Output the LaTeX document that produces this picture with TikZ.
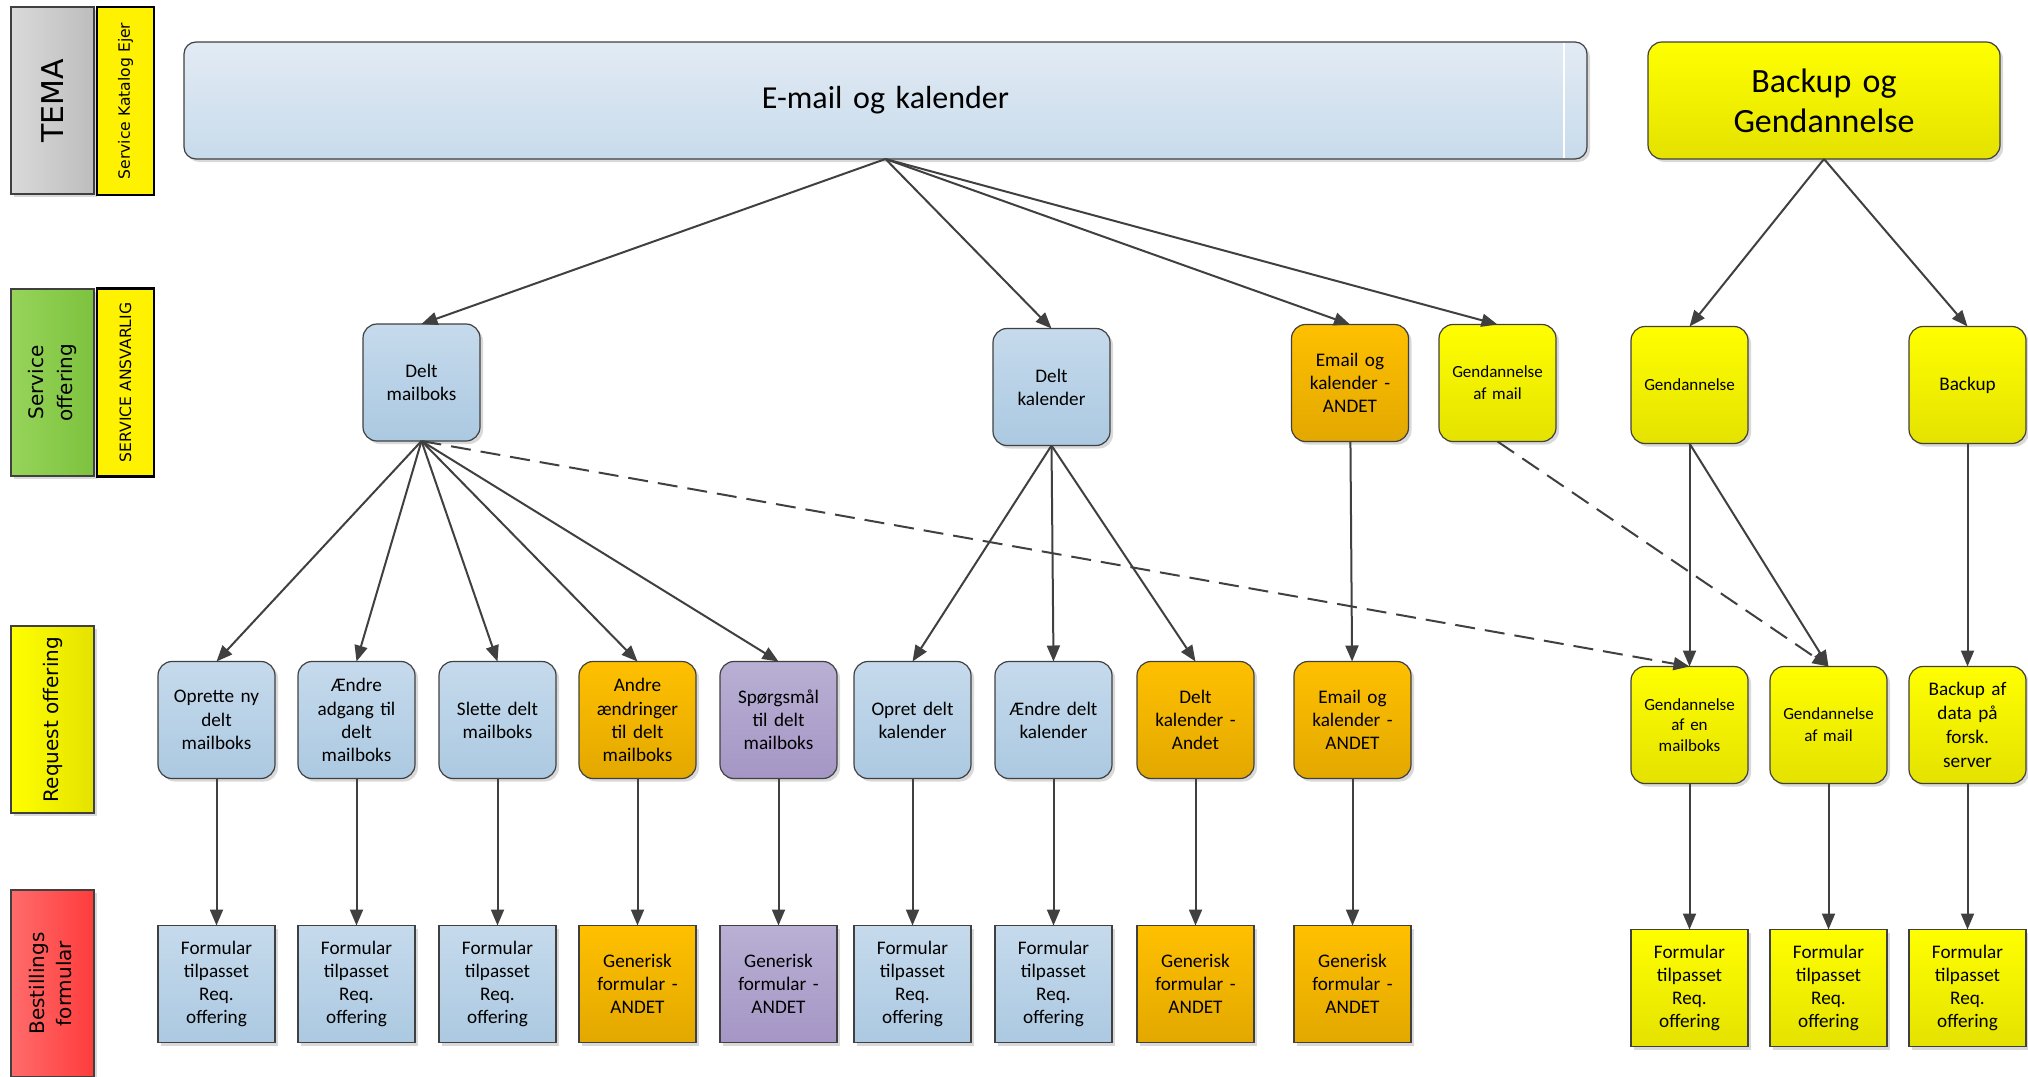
\documentclass[tikz,border=0pt]{standalone}
\usepackage{fontspec}
\setmainfont{Carlito}
\newfontfamily\lanefont{DejaVu Sans}
\usepackage{tikz}
\usetikzlibrary{arrows.meta}
\usetikzlibrary{positioning, shadows}

\definecolor{lineGrey}{HTML}{404040}
\definecolor{blueTop}{HTML}{C6DAEC}
\definecolor{blueBot}{HTML}{ABC9E1}
\definecolor{paleTop}{HTML}{E2EBF4}
\definecolor{paleBot}{HTML}{C8DBEB}
\definecolor{orangeTop}{HTML}{FFC000}
\definecolor{orangeBot}{HTML}{E3A800}
\definecolor{lilacTop}{HTML}{B9B0D4}
\definecolor{lilacBot}{HTML}{A596C5}
\definecolor{lemonTop}{HTML}{FFFF00}
\definecolor{lemonBot}{HTML}{E4E200}
\definecolor{greyL}{HTML}{DADADA}
\definecolor{greyR}{HTML}{BDBDBD}
\definecolor{greenL}{HTML}{96D45A}
\definecolor{greenR}{HTML}{7DC23E}
\definecolor{redL}{HTML}{FF6B6B}
\definecolor{redR}{HTML}{FF3C3C}

\tikzstyle{softshadow} = [drop shadow={shadow xshift=1.5pt, shadow yshift=-1.5pt, opacity=0.15, fill=black}]
\tikzstyle{lane} = [draw=lineGrey, line width=0.6pt,
	minimum width=41.5pt,
	minimum height=93.5pt, inner sep=0pt, font=\lanefont, softshadow]
\tikzstyle{owner} = [draw=black, line width=1.3pt, fill=yellow,
	minimum width=28.5pt,
	minimum height=94pt, inner sep=0pt, font=\lanefont\fontsize{7.8}{9}\selectfont]
\tikzstyle{box} = [draw=lineGrey, line width=0.6pt, rounded corners=7pt,
	minimum width=58.5pt,
	minimum height=58.5pt, text width=55pt, align=center, inner sep=0pt, outer sep=0pt,
	font=\fontsize{9.6}{11.6}\selectfont, softshadow]
\tikzstyle{form} = [box, sharp corners]
\tikzstyle{small} = [font=\fontsize{8.5}{11}\selectfont]
\tikzstyle{mblue} = [top color=blueTop, bottom color=blueBot]
\tikzstyle{mpale} = [top color=paleTop, bottom color=paleBot]
\tikzstyle{morange} = [top color=orangeTop, bottom color=orangeBot]
\tikzstyle{mlilac} = [top color=lilacTop, bottom color=lilacBot]
\tikzstyle{myellow} = [top color=lemonTop, bottom color=lemonBot]
\tikzstyle{arrow} = [-{Triangle[length=8pt, width=6.5pt]}, line width=1pt, draw=lineGrey]
\tikzstyle{link} = [arrow, dash pattern=on 10pt off 5pt]

\begin{document}
\begin{tikzpicture}[x=0.5pt, y=-0.5pt]
			\useasboundingbox (0,0) rectangle (2028,1076);
			% lanes on the left
			\node (tema) [lane, left color=greyL, right color=greyR] at (52.5,100.5) {\rotatebox{90}{\fontsize{15}{18}\selectfont TEMA}};
			\node (ejer) [owner] at (125.5,101) {\rotatebox{90}{Service Katalog Ejer}};
			\node (soff) [lane, left color=greenL, right color=greenR] at (52.5,382.5) {\rotatebox{90}{\fontsize{10}{14.5}\selectfont\begin{tabular}{@{}c@{}}Service\\offering\end{tabular}}};
			\node (ansv) [owner] at (125.5,382.5) {\rotatebox{90}{SERVICE ANSVARLIG}};
			\node (roff) [lane, left color=lemonTop, right color=lemonBot] at (52.5,719.5) {\rotatebox{90}{\fontsize{10}{12}\selectfont Request offering}};
			\node (best) [lane, left color=redL, right color=redR] at (52.5,983.5) {\rotatebox{90}{\fontsize{10}{13.5}\selectfont\begin{tabular}{@{}c@{}}Bestillings\\formular\end{tabular}}};
			
			% tema
			\node (email) [box, mpale, minimum width=701.5pt, text width=300pt, rounded corners=6pt, font=\fontsize{16}{19}\selectfont] at (885.5,100.5) {E-mail og kalender};
			\draw [white, line width=0.6pt] (1564,43) -- (1564,158);
			\node (backup) [box, myellow, minimum width=176pt, text width=150pt, font=\fontsize{17}{20}\selectfont] at (1824,100.5) {Backup og\\Gendannelse};
			
			% service offering
			\node (sMail) [box, mblue] at (421.5,382.5) {Delt\\mailboks};
			\node (sKal) [box, mblue] at (1051.5,387) {Delt\\kalender};
			\node (sAndet) [box, morange] at (1350,383) {Email og\\kalender -\\ANDET};
			\node (sGmail) [box, myellow, small, right=15.25pt] at (sAndet.east) {Gendannelse\\af mail};
			\node (sGend) [box, myellow, small] at (1689.5,385) {Gendannelse};
			\node (sBack) [box, myellow] at (1967.5,385) {Backup};
			\draw [arrow] (email.south) -- (sMail.north);
			\draw [arrow] (email.south) -- (sKal.north);
			\draw [arrow] (email.south) -- (sAndet.north);
			\draw [arrow] (email.south) -- (sGmail.north);
			\draw [arrow] (backup.south) -- (sGend.north);
			\draw [arrow] (backup.south) -- (sBack.north);
			
			% request offering
			\node (rNy) [box, mblue] at (216.5,720) {Oprette ny\\delt\\mailboks};
			\node (rAdg) [box, mblue, right=11.5pt] at (rNy.east) {Ændre\\adgang til\\delt\\mailboks};
			\node (rSlet) [box, mblue, right=12pt] at (rAdg.east) {Slette delt\\mailboks};
			\node (rAndre) [box, morange, right=11.5pt] at (rSlet.east) {Andre\\ændringer\\til delt\\mailboks};
			\node (rSpm) [box, mlilac, right=12pt] at (rAndre.east) {Spørgsmål\\til delt\\mailboks};
			\node (rOpret) [box, mblue, right=8.5pt] at (rSpm.east) {Opret delt\\kalender};
			\node (rKal) [box, mblue, right=12pt] at (rOpret.east) {Ændre delt\\kalender};
			\node (rKAndet) [box, morange, right=12.5pt] at (rKal.east) {Delt\\kalender -\\Andet};
			\node (rAndet) [box, morange, right=20pt] at (rKAndet.east) {Email og\\kalender -\\ANDET};
			\node (rGmbx) [box, myellow, small, font=\fontsize{8.5}{10.4}\selectfont] at (1689.5,725) {Gendannelse\\af en\\mailboks};
			\node (rGmail) [box, myellow, small, right=11pt] at (rGmbx.east) {Gendannelse\\af mail};
			\node (rBack) [box, myellow, right=11pt, font=\fontsize{9.6}{12}\selectfont] at (rGmail.east) {Backup af\\data på\\forsk.\\server};
			\draw [arrow] (sMail.south) -- (rNy.north);
			\draw [arrow] (sMail.south) -- (rAdg.north);
			\draw [arrow] (sMail.south) -- (rSlet.north);
			\draw [arrow] (sMail.south) -- (rAndre.north);
			\draw [arrow] (sMail.south) -- (rSpm.north);
			\draw [arrow] (sKal.south) -- (rOpret.north);
			\draw [arrow] (sKal.south) -- (rKal.north);
			\draw [arrow] (sKal.south) -- (rKAndet.north);
			\draw [arrow] (sAndet) -- (rAndet);
			\draw [arrow] (sGend.south) -- (rGmbx.north);
			\draw [arrow] (sGend.south) -- (rGmail.north);
			\draw [arrow] (sBack) -- (rBack);
			\draw [link] (sMail.south) -- (rGmbx.north);
			\draw [link] (sGmail.south) -- (rGmail.north);
			
			% bestillings formular
			\node (fNy) [form, mblue, below=73.5pt] at (rNy.south) {Formular\\tilpasset\\Req.\\offering};
			\node (fAdg) [form, mblue, below=73.5pt] at (rAdg.south) {Formular\\tilpasset\\Req.\\offering};
			\node (fSlet) [form, mblue, below=73.5pt] at (rSlet.south) {Formular\\tilpasset\\Req.\\offering};
			\node (fAndre) [form, morange, below=73.5pt] at (rAndre.south) {Generisk\\formular -\\ANDET};
			\node (fSpm) [form, mlilac, below=73.5pt] at (rSpm.south) {Generisk\\formular -\\ANDET};
			\node (fOpret) [form, mblue, below=73.5pt] at (rOpret.south) {Formular\\tilpasset\\Req.\\offering};
			\node (fKal) [form, mblue, below=73.5pt] at (rKal.south) {Formular\\tilpasset\\Req.\\offering};
			\node (fKAndet) [form, morange, below=73.5pt] at (rKAndet.south) {Generisk\\formular -\\ANDET};
			\node (fAndet) [form, morange, below=73.5pt] at (rAndet.south) {Generisk\\formular -\\ANDET};
			\node (fGmbx) [form, myellow, below=73pt] at (rGmbx.south) {Formular\\tilpasset\\Req.\\offering};
			\node (fGmail) [form, myellow, below=73pt] at (rGmail.south) {Formular\\tilpasset\\Req.\\offering};
			\node (fBack) [form, myellow, below=73pt] at (rBack.south) {Formular\\tilpasset\\Req.\\offering};
			\draw [arrow] (rNy) -- (fNy);
			\draw [arrow] (rAdg) -- (fAdg);
			\draw [arrow] (rSlet) -- (fSlet);
			\draw [arrow] (rAndre) -- (fAndre);
			\draw [arrow] (rSpm) -- (fSpm);
			\draw [arrow] (rOpret) -- (fOpret);
			\draw [arrow] (rKal) -- (fKal);
			\draw [arrow] (rKAndet) -- (fKAndet);
			\draw [arrow] (rAndet) -- (fAndet);
			\draw [arrow] (rGmbx) -- (fGmbx);
			\draw [arrow] (rGmail) -- (fGmail);
			\draw [arrow] (rBack) -- (fBack);
		\end{tikzpicture}
\end{document}
